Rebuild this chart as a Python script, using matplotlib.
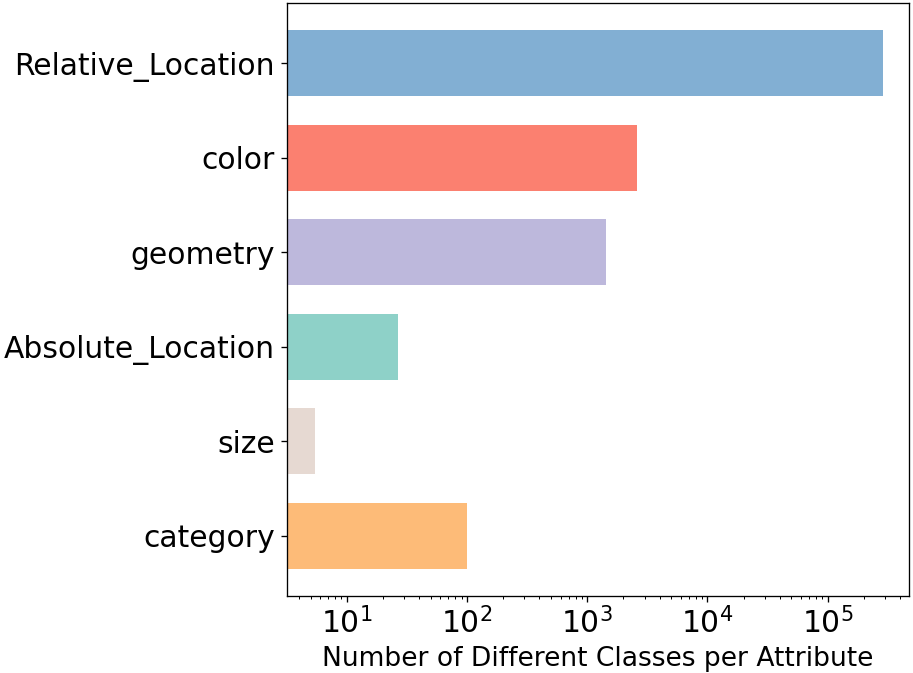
import numpy as np
import matplotlib
matplotlib.use('Agg')
import matplotlib.pyplot as plt

# attributes, bottom to top
attributes = ['category', 'size', 'Absolute_Location', 'geometry', 'color', 'Relative_Location']
num_classes = [100, 5.4, 26.5, 1440, 2610, 287000]
bar_colors = ['#fdbb78', '#e6d9d2', '#8ed1c8', '#bdb8dc', '#fb8070', '#82afd3']

DPI = 119
fig = plt.figure(figsize=(913 / DPI, 673 / DPI), dpi=DPI)
ax = fig.add_axes([0.314, 0.115, 0.682, 0.880])

y = np.arange(len(attributes))
ax.barh(y, num_classes, height=0.7, color=bar_colors)
ax.set_xscale('log')
ax.set_xlim(3.15, 480000)

ax.set_yticks(y)
ax.set_yticklabels(attributes, fontsize=18)
ax.tick_params(axis='x', labelsize=18)
ax.set_xlabel('Number of Different Classes per Attribute', fontsize=16)

fig.savefig('out.png', dpi=DPI)
